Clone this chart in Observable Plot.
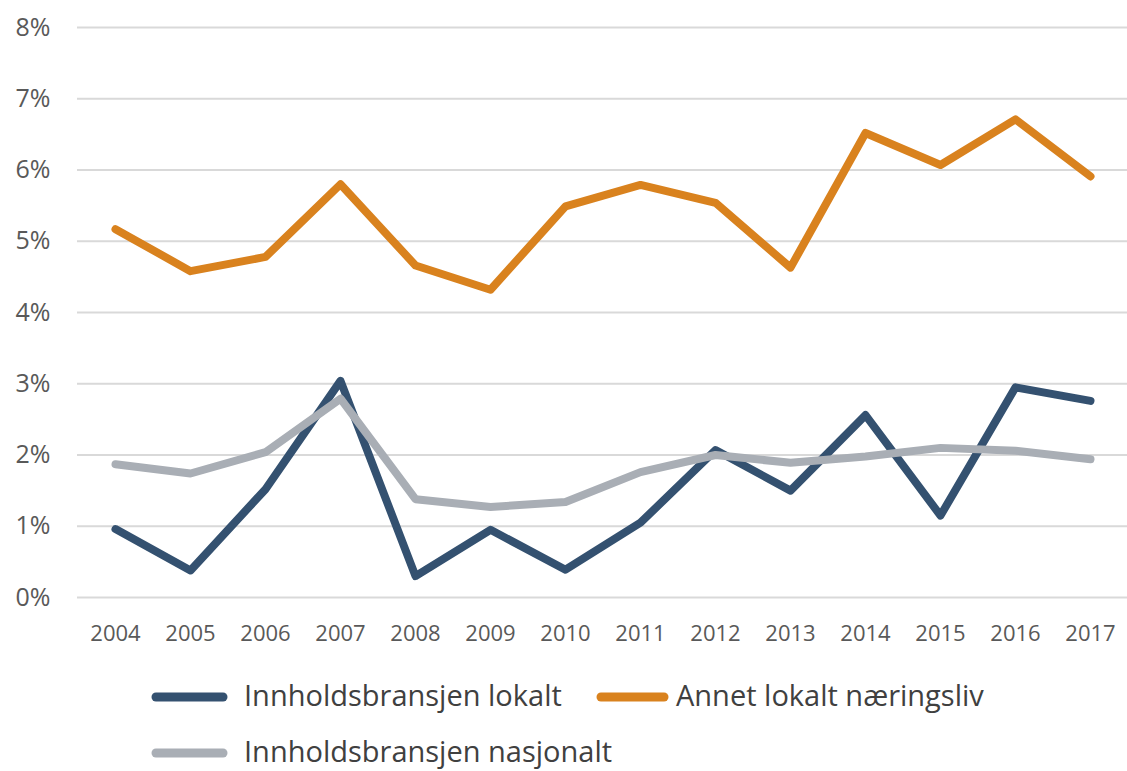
<!DOCTYPE html>
<html>
<head>
<meta charset="utf-8">
<script src="https://cdn.jsdelivr.net/npm/d3@7"></script>
<script src="https://cdn.jsdelivr.net/npm/@observablehq/plot@0.6"></script>
<style>
  html, body { margin: 0; padding: 0; background: #fff; }
  body { width: 1127px; height: 771px; overflow: hidden; position: relative; font-family: "Open Sans", sans-serif; }
  #chart { position: absolute; left: 0; top: 0; }
  .sw { position: absolute; }
  .lt { position: absolute; font-size: 29px; line-height: 34px; color: #404040; white-space: nowrap; }
</style>
</head>
<body>
<div id="chart"></div>
<div id="legend"></div>
<script>
const years = [2004, 2005, 2006, 2007, 2008, 2009, 2010, 2011, 2012, 2013, 2014, 2015, 2016, 2017];
const seriesNames = ["Innholdsbransjen lokalt", "Annet lokalt næringsliv", "Innholdsbransjen nasjonalt"];
const seriesColors = ["#345170", "#d9821e", "#a9aeb5"];
const innholdLokalt = [0.96, 0.38, 1.52, 3.04, 0.30, 0.95, 0.39, 1.05, 2.07, 1.50, 2.56, 1.15, 2.95, 2.76];
const annetLokalt = [5.17, 4.58, 4.78, 5.80, 4.66, 4.32, 5.49, 5.79, 5.54, 4.63, 6.52, 6.07, 6.71, 5.91];
const innholdNasjonalt = [1.87, 1.74, 2.04, 2.79, 1.38, 1.27, 1.34, 1.76, 2.00, 1.89, 1.98, 2.10, 2.06, 1.94];
const yTicks = [0, 1, 2, 3, 4, 5, 6, 7, 8];

const allValues = [innholdLokalt, annetLokalt, innholdNasjonalt];
const data = [];
allValues.forEach((vals, si) => {
  vals.forEach((v, i) => data.push({ series: seriesNames[si], year: String(years[i]), value: v / 100 }));
});

const chart = Plot.plot({
  width: 1127,
  height: 665,
  marginLeft: 77,
  marginRight: 0,
  marginTop: 27,
  marginBottom: 68,
  style: { fontFamily: "Open Sans, sans-serif", color: "#595959", background: "#fff" },
  x: { type: "point", domain: years.map(String), padding: 0.5, label: null },
  y: { domain: [0, 0.08], label: null },
  color: { domain: seriesNames, range: seriesColors },
  marks: [
    Plot.ruleY(yTicks.map(d => d / 100), { stroke: "#d9d9d9", strokeWidth: 2 }),
    Plot.axisY(yTicks.map(d => d / 100), {
      tickSize: 0, tickPadding: 27, tickFormat: d3.format(".0%"), fontSize: 25, fill: "#595959", label: null
    }),
    Plot.axisX({ tickSize: 0, tickPadding: 28, fontSize: 22, fill: "#595959", label: null }),
    Plot.line(data, {
      x: "year", y: "value", z: "series", stroke: "series",
      strokeWidth: 8, strokeLinejoin: "round", strokeLinecap: "round"
    })
  ]
});
document.getElementById("chart").appendChild(chart);

// Legend: swatch x-range and text left, row centre y
const legendPos = [
  { sx1: 156, sx2: 223, tx: 244, cy: 697 },
  { sx1: 601, sx2: 664, tx: 676, cy: 697 },
  { sx1: 156, sx2: 223, tx: 244, cy: 753 }
];
const legend = document.getElementById("legend");
seriesNames.forEach((name, i) => {
  const p = legendPos[i];
  const sw = d3.create("svg").attr("class", "sw")
    .attr("width", p.sx2 - p.sx1 + 12).attr("height", 12)
    .style("left", (p.sx1 - 6) + "px").style("top", (p.cy - 6) + "px");
  sw.append("line").attr("x1", 6).attr("x2", p.sx2 - p.sx1 + 6).attr("y1", 6).attr("y2", 6)
    .attr("stroke", seriesColors[i]).attr("stroke-width", 9).attr("stroke-linecap", "round");
  legend.appendChild(sw.node());
  const span = document.createElement("div");
  span.className = "lt";
  span.style.left = p.tx + "px";
  span.style.top = (p.cy - 19) + "px";
  span.textContent = name;
  legend.appendChild(span);
});
</script>
</body>
</html>
